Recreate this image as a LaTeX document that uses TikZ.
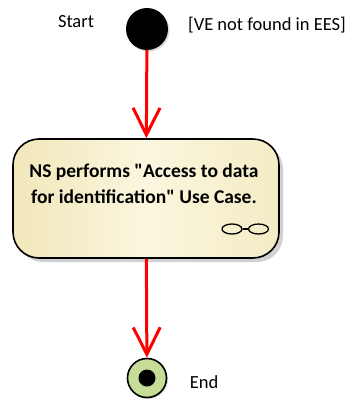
\documentclass[tikz,border=0pt]{standalone}
\usepackage{fontspec}
\setmainfont{Carlito}
\usepackage{tikz}
\usetikzlibrary{arrows.meta,shadows,shapes.geometric}

\definecolor{actleft}{HTML}{F1E7BA}
\definecolor{actmid}{HTML}{FBF6DE}
\definecolor{actright}{HTML}{F4ECC6}
\definecolor{endfill}{HTML}{C6DD98}
\definecolor{flowred}{HTML}{FF0000}

\begin{document}
\begin{tikzpicture}[
  x=1pt,
  y=-1pt,
  initial/.style={circle, fill=black, minimum size=42pt, inner sep=0pt,
    drop shadow={shadow xshift=1.5pt, shadow yshift=-1.5pt, opacity=0.3}},
  final/.style={circle, draw=black, line width=1.6pt, fill=endfill,
    minimum size=39pt, inner sep=0pt,
    drop shadow={shadow xshift=1.5pt, shadow yshift=-1.5pt, opacity=0.3}},
  action/.style={rectangle, rounded corners=26pt, draw=black, line width=1.6pt,
    left color=actleft, right color=actright, middle color=actmid,
    minimum width=266pt, minimum height=119pt, inner sep=0pt,
    drop shadow={shadow xshift=4pt, shadow yshift=-4pt, fill=gray!60, opacity=0.6}},
  rake/.style={ellipse, draw=black, line width=1.3pt, minimum width=20pt,
    minimum height=10pt, inner sep=0pt},
  flow/.style={line width=3pt, color=flowred,
    -{Straight Barb[length=27pt, width=27pt, line width=3pt]}},
  label/.style={font=\fontsize{18.5}{22}\selectfont}
]
  \useasboundingbox (0,0) rectangle (352,399);

  \node[initial] (start) at (147,29) {};
  \node[label] (startlbl) at (76,22) {Start};
  \node[label] (guard) at (267,25) {[VE not found in EES]};

  \node[action] (access) at (146,198.5) {};
  \node[align=center, font=\fontsize{19.5}{26}\selectfont\bfseries]
    (accesstxt) at (144,184) {NS performs \textquotedbl Access to data\\for identification\textquotedbl{} Use Case.};

  % call-behavior rake
  \node[rake] (rakeL) at (232,229) {};
  \node[rake] (rakeR) at (258.5,229) {};
  \draw[line width=1.3pt] (rakeL) -- (rakeR);

  \node[final] (end) at (147,378) {};
  \fill[black] (end) circle (8.5pt);
  \node[label] (endlbl) at (204,382) {End};

  \draw[flow] (start) -- (access);
  \draw[flow] (access) -- (end);
\end{tikzpicture}
\end{document}
